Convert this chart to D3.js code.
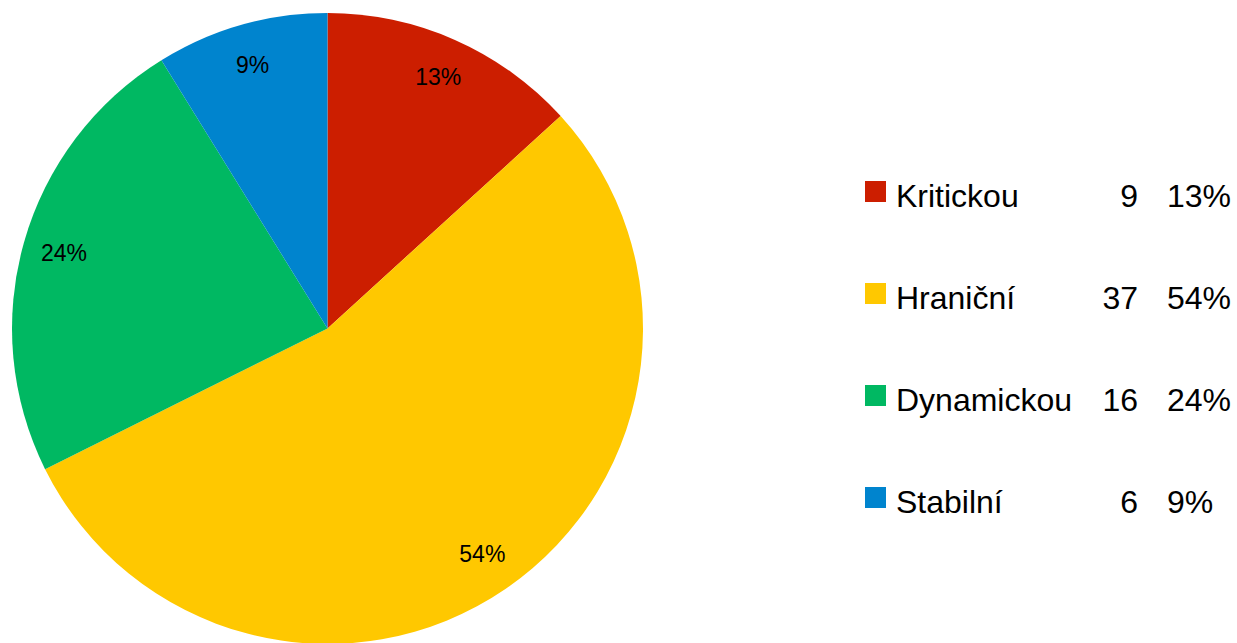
<!DOCTYPE html>
<html>
<head>
<meta charset="utf-8">
<script src="https://cdn.jsdelivr.net/npm/d3@7"></script>
<style>
  html, body { margin: 0; padding: 0; background: #fff; }
  text { font-family: "Liberation Sans", Arial, sans-serif; fill: #000; }
</style>
</head>
<body>
<div id="chart"></div>
<script>
// categories and counts
var categories = ["Kritickou", "Hraniční", "Dynamickou", "Stabilní"];
var counts = [9, 37, 16, 6];
var colors = ["#CC1E00", "#FFC800", "#00B862", "#0084CE"];

var width = 1237, height = 643;
var cx = 327.5, cy = 328.5, radius = 315.5;

var total = d3.sum(counts);
var data = categories.map(function(c, i) {
  return {name: c, value: counts[i], color: colors[i], pct: Math.round(counts[i] / total * 100) + "%"};
});

var svg = d3.select("#chart")
  .append("svg")
    .attr("width", width)
    .attr("height", height);

var g = svg.append("g")
    .attr("transform", "translate(" + cx + "," + cy + ")");

// pie, clockwise from 12 o'clock
var pie = d3.pie()
  .sort(null)
  .value(function(d) { return d.value; });

var arc = d3.arc().innerRadius(0).outerRadius(radius);
var labelArc = d3.arc().innerRadius(274).outerRadius(274);

var arcs = pie(data);

g.selectAll("path")
  .data(arcs)
  .enter()
  .append("path")
    .attr("d", arc)
    .attr("fill", function(d) { return d.data.color; });

g.selectAll("text.pct")
  .data(arcs)
  .enter()
  .append("text")
    .attr("class", "pct")
    .attr("transform", function(d) { return "translate(" + labelArc.centroid(d) + ")"; })
    .attr("text-anchor", "middle")
    .attr("dy", "0.33em")
    .style("font-size", "23px")
    .text(function(d) { return d.data.pct; });

// legend
var ly = d3.scalePoint()
  .domain(categories)
  .range([195, 501]);

var legend = svg.append("g");

var rows = legend.selectAll("g")
  .data(data)
  .enter()
  .append("g")
    .attr("transform", function(d) { return "translate(0," + ly(d.name) + ")"; });

rows.append("rect")
    .attr("x", 865)
    .attr("y", -14)
    .attr("width", 21)
    .attr("height", 21)
    .attr("fill", function(d) { return d.color; });

rows.append("text")
    .attr("x", 896)
    .attr("dy", "0.36em")
    .style("font-size", "32px")
    .text(function(d) { return d.name; });

rows.append("text")
    .attr("x", 1138)
    .attr("dy", "0.36em")
    .attr("text-anchor", "end")
    .style("font-size", "32px")
    .text(function(d) { return d.value; });

rows.append("text")
    .attr("x", 1167)
    .attr("dy", "0.36em")
    .style("font-size", "32px")
    .text(function(d) { return d.pct; });
</script>
</body>
</html>
